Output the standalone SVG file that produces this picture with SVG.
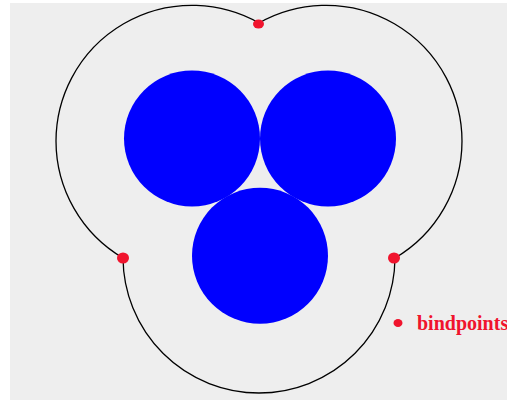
<svg xmlns="http://www.w3.org/2000/svg" width="507" height="400" viewBox="0 0 507 400">
<style>
.bg{fill:#eeeeee}
.ball{fill:#0000ff}
.outline{fill:none;stroke:#000;stroke-width:1.3}
.bp{fill:#f0142d}
.lbl{font-family:"Liberation Serif","Times New Roman",serif;font-weight:bold;font-size:20px;fill:#f0142d}
</style>
<rect x="0" y="0" width="507" height="400" fill="#ffffff"/>
<rect class="bg" x="10" y="3" width="497" height="397"/>
<g id="connectors">
<path class="outline" d="M123,258 A136,136 0 0 1 56,141 A136,136 0 0 1 259,23 A136,136 0 0 1 462,141 A136,136 0 0 1 395,258 A136,136 0 0 1 259,393 A136,136 0 0 1 123,258 Z"/>
</g>
<g id="circle-top-left"><circle class="ball" cx="192" cy="138.5" r="68"/></g>
<g id="circle-top-right"><circle class="ball" cx="328" cy="138.5" r="68"/></g>
<g id="circle-bottom"><circle class="ball" cx="260" cy="255.7" r="68"/></g>
<g id="bindpoint-top"><ellipse class="bp" cx="258.5" cy="24" rx="5.5" ry="4.5"/></g>
<g id="bindpoint-left"><ellipse class="bp" cx="123" cy="258" rx="6" ry="5.5"/></g>
<g id="bindpoint-right"><ellipse class="bp" cx="394" cy="258" rx="6" ry="5.5"/></g>
<g id="legend">
<ellipse class="bp" cx="398" cy="323" rx="4.5" ry="4"/>
<text class="lbl" x="417" y="330">bindpoints</text>
</g>
</svg>
